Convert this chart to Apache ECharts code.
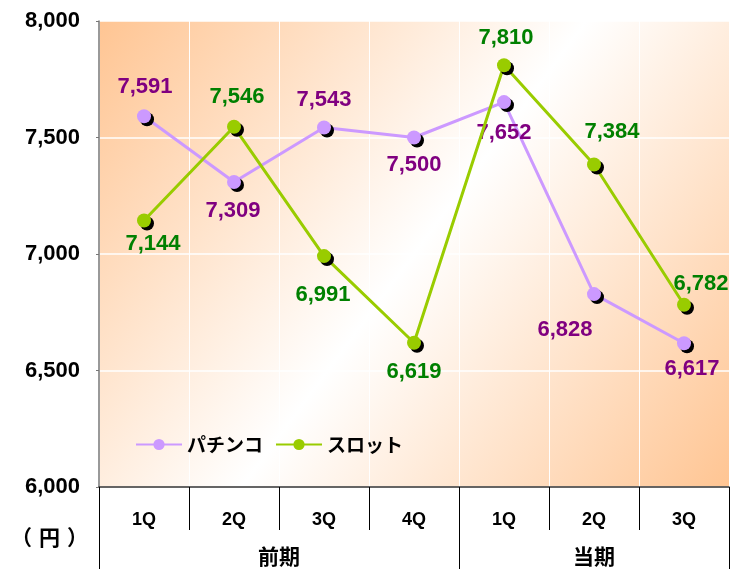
<!DOCTYPE html>
<html>
<head>
<meta charset="utf-8">
<script src="https://cdn.jsdelivr.net/npm/echarts@6/dist/echarts.min.js"></script>
<style>
html,body{margin:0;padding:0;background:#fff;}
#c{width:731px;height:569px;}
</style>
</head>
<body>
<div id="c"></div>
<script>
// ---- data ----
const quarters = ['1Q','2Q','3Q','4Q','1Q','2Q','3Q'];
const periodSlots = ['','','','','前期','','','','','','','当期','','',''];
const seriesNames = ['パチンコ','スロット'];
const pachinko = [7591,7309,7543,7500,7652,6828,6617];
const slot = [7144,7546,6991,6619,7810,7384,6782];
const yTicks = [6000,6500,7000,7500,8000];
const unitLabel = ['（','円','）'];

// ---- presentation ----
const pachinkoLabelOffsets = [[1,-29],[-1,29],[0,-28],[0,27],[0,31],[-29,36],[8,26]];
const slotLabelOffsets = [[9,23],[3,-30],[-1,39],[0,29],[2,-27],[18,-33],[17,-21]];
const latin = '"Liberation Sans", Arial, sans-serif';
const cjk = '"Noto Sans CJK JP", sans-serif';

function mkData(vals, offs){
  return vals.map((v,i)=>({
    value: v,
    label: {offset: offs[i]}
  }));
}

const chart = echarts.init(document.getElementById('c'));
chart.setOption({
  animation: false,
  title: {
    text: '{p|' + unitLabel[0] + '}{u|' + unitLabel[1] + '}{p|' + unitLabel[2] + '}',
    left: 6, top: 522,
    textStyle: {
      fontFamily: cjk, fontSize: 21, fontWeight: 'bold', color: '#000',
      rich: {
        p: {fontFamily: cjk, fontSize: 21, fontWeight: 'bold', color: '#000'},
        u: {fontFamily: cjk, fontSize: 21, fontWeight: 'bold', color: '#000', padding: [0, 7]}
      }
    }
  },
  grid: {
    left: 99, right: 2, top: 21, bottom: 82,
    show: true, borderWidth: 0,
    backgroundColor: new echarts.graphic.LinearGradient(0,0,1,1,[
      {offset:0, color:'#FFC593'},
      {offset:0.5, color:'#FFFFFF'},
      {offset:1, color:'#FFC593'}
    ])
  },
  legend: {
    left: 130, top: 430,
    itemWidth: 46, itemHeight: 14, itemGap: 12,
    textStyle: {fontFamily: cjk, fontSize: 19, fontWeight: 'bold', color: '#000'},
    data: seriesNames
  },
  xAxis: [{
    type: 'category',
    data: quarters,
    boundaryGap: true,
    position: 'bottom',
    axisLine: {show: true, lineStyle: {color: '#333', width: 1.5}},
    axisTick: {show: true, length: 43, lineStyle: {color: '#000', width: 1}},
    axisLabel: {margin: 24, fontFamily: latin, fontSize: 18, fontWeight: 'bold', color: '#000'},
    splitLine: {show: true, lineStyle: {color: '#FFFFFF', width: 1}}
  },{
    type: 'category',
    data: periodSlots,
    boundaryGap: false,
    position: 'bottom',
    offset: 0,
    axisLine: {show: false},
    axisTick: {show: true, length: 84, interval: (i)=> i===0 || i===8 || i===14, lineStyle: {color: '#000', width: 1}},
    axisLabel: {margin: 59, interval: (i)=> i===4 || i===11, fontFamily: cjk, fontSize: 21, fontWeight: 'bold', color: '#000'},
    splitLine: {show: false}
  }],
  yAxis: {
    type: 'value',
    min: yTicks[0], max: yTicks[yTicks.length-1], interval: yTicks[1]-yTicks[0],
    axisLine: {show: true, lineStyle: {color: '#777', width: 1.5}},
    axisTick: {show: true, length: 3, lineStyle: {color: '#777'}},
    axisLabel: {
      margin: 19, fontFamily: latin, fontSize: 22, fontWeight: 'bold', color: '#000',
      formatter: (v)=> v.toLocaleString('en-US')
    },
    splitLine: {show: true, lineStyle: {color: '#FFFFFF', width: 1.5}}
  },
  series: [{
    name: seriesNames[0],
    type: 'line',
    data: mkData(pachinko, pachinkoLabelOffsets),
    symbol: 'circle', symbolSize: 14,
    lineStyle: {color: '#CC99FF', width: 3},
    itemStyle: {color: '#CC99FF', shadowColor: '#000', shadowBlur: 0, shadowOffsetX: 3, shadowOffsetY: 3},
    label: {
      show: true, position: 'inside',
      fontFamily: latin, fontSize: 22, fontWeight: 'bold', color: '#800080',
      formatter: (p)=> p.value.toLocaleString('en-US')
    },
    z: 3
  },{
    name: seriesNames[1],
    type: 'line',
    data: mkData(slot, slotLabelOffsets),
    symbol: 'circle', symbolSize: 14,
    lineStyle: {color: '#99CC00', width: 3},
    itemStyle: {color: '#99CC00', shadowColor: '#000', shadowBlur: 0, shadowOffsetX: 3, shadowOffsetY: 3},
    label: {
      show: true, position: 'inside',
      fontFamily: latin, fontSize: 22, fontWeight: 'bold', color: '#008000',
      formatter: (p)=> p.value.toLocaleString('en-US')
    },
    z: 4
  }]
});
</script>
</body>
</html>
